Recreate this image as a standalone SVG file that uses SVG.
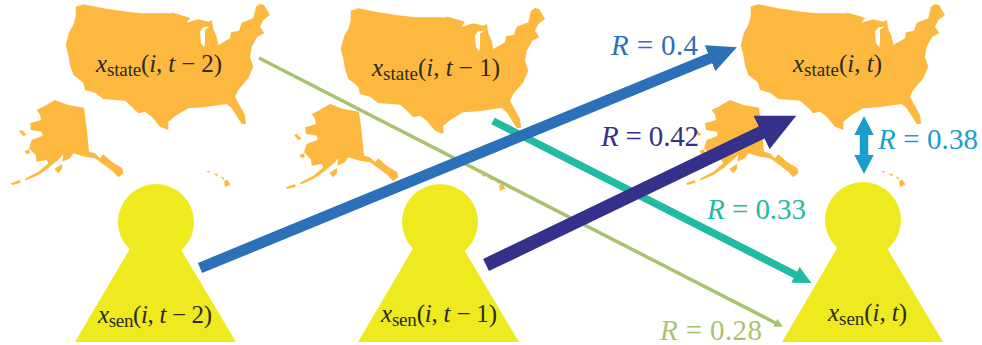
<svg xmlns="http://www.w3.org/2000/svg" width="982" height="345" viewBox="0 0 982 345">
<style>
.map{fill:#FDB93F}
.body{fill:#EFE920}
.lbl{font-family:"Liberation Serif",serif;font-size:25px;fill:#2b2b20}
.r{font-family:"Liberation Serif",serif;font-size:29px}
.i{font-style:italic}
.s{font-size:19px}
.line{fill:none}
</style>
<defs>
<g id="usa">
<path class="map" fill-rule="evenodd" d="M75.7 6.7L83.3 4.3L103.3 8.3L126.7 11.7L141.7 13.3L171.7 13.3L172 12.5L186.7 16.7L190 18L186.7 22.7L198.3 19.3L208.3 21.7L212 20L213 28.3L216.7 36.7L218.3 45L230 38.3L231 32.3L239 30.7L241.7 22.7L253.3 18.3L256 6.7L260 4L264 5L270 15L263.3 20L260 26.7L264.3 33.3L257.3 36.7L251.7 46.7L250 56.7L253.3 66.7L248.3 78.3L238.3 90L235 96.7L245 115L246 124L241.7 124L231.7 108.3L226.7 104L203.3 107.3L188.3 108.3L176.7 115L168.3 121.7L168.3 130L160 126.7L151.7 116.7L145 111.7L138.3 113.3L130 105L125 100.7L103.3 99L95 92.7L85 90L83.3 83.3L80 80L73.3 75L70 65L68.3 55L65.7 45L69.3 31.7L73.3 25L75.7 16.7Z M200 31.7L203 27.5L210 26.5L205 29.5L205 41.7L204.3 47.3L201 43.3Z"/>
<path class="map" d="M36.7 110L43.3 106.7L55 100L68.3 105L84 107.7L86.7 128.3L89 151.7L95 153.3L100 158.3L103.3 154.3L111.7 161.7L122.3 168.3L123.3 173.3L118.3 177.3L113.3 171.7L106.7 166.7L95 158.3L85 156.7L73.3 153.3L70 158.3L62.3 161.7L63.3 154.3L60 158.3L48.3 168.3L38.3 175L25 180.7L25.7 178.3L38.3 171.7L48.3 163.3L46.7 160L36.7 161.7L35.7 155L29 148.3L31.7 140L42.7 135.7L41.7 131.7L31 130L30 123.3L41 120L40 115Z"/>
<path class="map" d="M10.7 183.3L20 180L20.7 182.7L12.3 185Z M54.3 169L61.7 164L62.3 168.3L58.3 173.3Z M19 131L21.7 130L26.7 135L23.3 136Z M24.3 151L29 149.3L30 153.3L26.7 154Z M206 171L210 171L209.5 173Z M213.5 173.5L218 174L217 176.5Z M220 176.5L224 177.5L224 180Z M224 181.5L227 179.5L230.5 184.5L225 187Z"/>
</g>
<polygon id="person-body" class="body" points="0,342 80,206 161,342"/>
<marker id="m-blue" markerUnits="userSpaceOnUse" markerWidth="29" markerHeight="28" viewBox="0 0 29 28" refX="0.5" refY="14" orient="auto"><polygon points="0,0 29,14 0,28" fill="#2B70B8"/></marker>
<marker id="m-navy" markerUnits="userSpaceOnUse" markerWidth="38.5" markerHeight="37" viewBox="0 0 38.5 37" refX="0.5" refY="18.5" orient="auto"><polygon points="0,0 38.5,18.5 0,37" fill="#35308A"/></marker>
<marker id="m-teal" markerUnits="userSpaceOnUse" markerWidth="18" markerHeight="18" viewBox="0 0 18 18" refX="0.5" refY="9" orient="auto"><polygon points="0,0 18,9 0,18" fill="#20BBA0"/></marker>
<marker id="m-green" markerUnits="userSpaceOnUse" markerWidth="8.5" markerHeight="9" viewBox="0 0 8.5 9" refX="0.5" refY="4.5" orient="auto"><polygon points="0,0 8.5,4.5 0,9" fill="#A9C26F"/></marker>
</defs>
<g id="state-t2"><use href="#usa"/><text class="lbl" x="96" y="72" textLength="126"><tspan class="i">x</tspan><tspan class="s" dy="4">state</tspan><tspan dy="-4">(</tspan><tspan class="i">i</tspan>, <tspan class="i">t</tspan> − 2)</text></g>
<g id="state-t1"><use href="#usa" x="275" y="4"/><text class="lbl" x="372" y="76" textLength="128"><tspan class="i">x</tspan><tspan class="s" dy="4">state</tspan><tspan dy="-4">(</tspan><tspan class="i">i</tspan>, <tspan class="i">t</tspan> − 1)</text></g>
<g id="state-t"><use href="#usa" x="675"/><text class="lbl" x="793" y="72" textLength="89"><tspan class="i">x</tspan><tspan class="s" dy="4">state</tspan><tspan dy="-4">(</tspan><tspan class="i">i</tspan>, <tspan class="i">t</tspan>)</text></g>
<g id="sen-t2"><use href="#person-body" x="75"/><circle class="body" cx="156" cy="222" r="38"/><text class="lbl" x="98" y="323" textLength="114"><tspan class="i">x</tspan><tspan class="s" dy="4">sen</tspan><tspan dy="-4">(</tspan><tspan class="i">i</tspan>, <tspan class="i">t</tspan> − 2)</text></g>
<g id="sen-t1"><use href="#person-body" x="358"/><circle class="body" cx="440" cy="222" r="38"/><text class="lbl" x="381" y="322" textLength="116"><tspan class="i">x</tspan><tspan class="s" dy="4">sen</tspan><tspan dy="-4">(</tspan><tspan class="i">i</tspan>, <tspan class="i">t</tspan> − 1)</text></g>
<g id="sen-t"><use href="#person-body" x="782"/><circle class="body" cx="863" cy="220" r="38"/><text class="lbl" x="828" y="321" textLength="79"><tspan class="i">x</tspan><tspan class="s" dy="4">sen</tspan><tspan dy="-4">(</tspan><tspan class="i">i</tspan>, <tspan class="i">t</tspan>)</text></g>
<g id="connectors">
<line class="line" x1="259" y1="58" x2="775.7" y2="323" stroke="#A9C26F" stroke-width="3.5" marker-end="url(#m-green)"/>
<line class="line" x1="493" y1="121" x2="795.8" y2="275" stroke="#20BBA0" stroke-width="7.5" marker-end="url(#m-teal)"/>
<line class="line" x1="200" y1="268" x2="710.5" y2="58" stroke="#2B70B8" stroke-width="11" marker-end="url(#m-blue)"/>
<line class="line" x1="486" y1="265" x2="762" y2="132.3" stroke="#35308A" stroke-width="13.5" marker-end="url(#m-navy)"/>
<polygon points="864,116 873.7,135 868.2,135 868.2,155 873.7,155 864,174 854.3,155 859.8,155 859.8,135 854.3,135" fill="#1B9DD0"/>
</g>
<g id="labels">
<text class="r" x="611" y="55" textLength="87" fill="#2B70B8"><tspan class="i">R</tspan> = 0.4</text>
<text class="r" x="601" y="146" textLength="98" fill="#35308A"><tspan class="i">R</tspan> = 0.42</text>
<text class="r" x="707" y="219" textLength="99" fill="#20BBA0"><tspan class="i">R</tspan> = 0.33</text>
<text class="r" x="660" y="340" textLength="102" fill="#A9C26F"><tspan class="i">R</tspan> = 0.28</text>
<text class="r" x="878" y="149" textLength="100" fill="#1B9DD0"><tspan class="i">R</tspan> = 0.38</text>
</g>
</svg>
